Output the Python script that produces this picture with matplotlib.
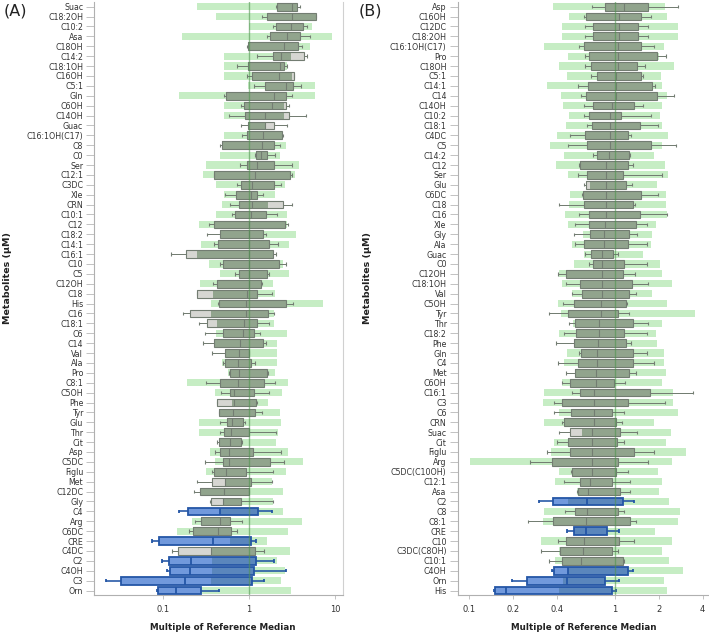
import numpy as np
import matplotlib
matplotlib.use("Agg")
import matplotlib.pyplot as plt
from matplotlib.ticker import NullLocator

# ---- panel A data (multiple of reference median) ----
names_a = ["Suac", "C18:2OH", "C10:2", "Asa", "C18OH", "C14:2", "C18:1OH", "C16OH", "C5:1", "Gln",
           "C6OH", "C14OH", "Guac", "C16:1OH(C17)", "C8", "C0", "Ser", "C12:1", "C3DC", "Xle",
           "CRN", "C10:1", "C12", "C18:2", "C14:1", "C16:1", "C10", "C5", "C12OH", "C18",
           "His", "C16", "C18:1", "C6", "C14", "Val", "Ala", "Pro", "C8:1", "C5OH",
           "Phe", "Tyr", "Glu", "Thr", "Cit", "Asp", "C5DC", "Figlu", "Met", "C12DC",
           "Gly", "C4", "Arg", "C6DC", "CRE", "C4DC", "C2", "C4OH", "C3", "Orn"]
ref_lo_a = [0.25, 0.41, 1.0, 0.166, 0.98, 0.51, 0.51, 0.51, 0.98, 0.155,
            0.51, 0.51, 0.98, 0.51, 0.48, 0.46, 0.32, 0.29, 0.41, 0.51,
            0.48, 0.41, 0.26, 0.46, 0.28, 0.25, 0.34, 0.46, 0.27, 0.385,
            0.36, 0.36, 0.42, 0.41, 0.39, 0.52, 0.49, 0.565, 0.19, 0.40,
            0.63, 0.445, 0.26, 0.26, 0.445, 0.35, 0.40, 0.32, 0.53, 0.27,
            0.50, 0.46, 0.22, 0.144, 0.60, 0.37, 0.37, 0.37, 0.36, 0.28]
ref_hi_a = [3.6, 6.05, 5.35, 9.15, 5.12, 3.05, 2.79, 3.13, 5.85, 5.85,
            2.55, 2.53, 1.53, 2.51, 2.67, 2.29, 3.85, 3.43, 2.62, 2.02,
            1.65, 2.79, 2.79, 3.52, 2.89, 1.92, 2.51, 2.89, 1.88, 2.02,
            7.19, 1.95, 1.97, 2.79, 2.14, 2.10, 2.10, 2.0, 2.87, 2.44,
            1.65, 2.29, 2.33, 2.15, 2.04, 2.84, 4.28, 2.67, 1.83, 2.46,
            1.88, 2.51, 4.10, 2.84, 1.60, 3.0, 2.10, 2.62, 2.33, 3.08]
whisk_lo_a = [2.06, 1.40, 1.88, 1.60, 0.94, 1.23, 0.72, 0.956, 1.15, 0.512,
              0.80, 0.58, 0.80, 0.837, 0.46, 1.17, 0.786, 0.388, 0.719, 0.526,
              0.601, 0.64, 0.343, 0.322, 0.395, 0.123, 0.46, 0.694, 0.385, 0.251,
              0.436, 0.169, 0.264, 0.305, 0.294, 0.368, 0.494, 0.58, 0.313, 0.472,
              0.421, 0.448, 0.46, 0.464, 0.425, 0.403, 0.305, 0.371, 0.249, 0.231,
              0.349, 0.155, 0.236, 0.203, 0.0745, 0.128, 0.0965, 0.110, 0.0217, 0.086]
q1_a = [2.14, 1.62, 2.08, 1.77, 0.98, 1.88, 0.98, 1.09, 1.55, 0.545,
        0.867, 0.906, 0.98, 0.947, 0.485, 1.21, 0.956, 0.388, 0.80, 0.706,
        0.772, 0.694, 0.395, 0.464, 0.436, 0.184, 0.499, 0.772, 0.421, 0.251,
        0.452, 0.208, 0.322, 0.499, 0.395, 0.521, 0.531, 0.607, 0.456, 0.596,
        0.421, 0.448, 0.555, 0.512, 0.448, 0.456, 0.494, 0.388, 0.371, 0.269,
        0.365, 0.197, 0.277, 0.225, 0.0906, 0.151, 0.119, 0.121, 0.0322, 0.0874]
median_a = [3.19, 3.13, 3.05, 2.74, 2.53, 2.36, 2.29, 2.25, 2.69, 1.97,
            1.87, 1.53, 1.53, 1.47, 1.40, 1.37, 1.23, 1.17, 1.07, 1.05,
            1.07, 1.05, 1.01, 1.01, 1.01, 1.0, 1.01, 1.0, 1.0, 0.947,
            0.923, 0.923, 0.883, 0.844, 0.786, 0.772, 0.738, 0.758, 0.738, 0.675,
            0.675, 0.646, 0.629, 0.618, 0.601, 0.591, 0.591, 0.54, 0.526, 0.512,
            0.503, 0.46, 0.46, 0.44, 0.378, 0.358, 0.212, 0.206, 0.180, 0.140]
q3_a = [3.58, 6.01, 4.24, 3.88, 3.75, 4.36, 2.58, 3.34, 3.28, 2.69,
        2.67, 2.92, 1.97, 2.42, 1.94, 1.63, 1.97, 2.97, 1.97, 1.24,
        2.51, 1.59, 2.60, 1.45, 1.72, 1.92, 2.23, 1.60, 1.38, 1.25,
        2.69, 1.65, 1.23, 1.15, 1.45, 1.0, 1.05, 1.62, 1.48, 1.14,
        1.20, 1.19, 0.844, 1.0, 0.814, 1.12, 1.75, 0.915, 1.06, 0.99,
        0.814, 1.26, 0.601, 0.612, 1.05, 1.19, 1.21, 1.15, 1.09, 0.274]
whisk_hi_a = [3.92, 6.01, 4.68, 5.12, 4.10, 4.68, 2.79, 3.34, 4.02, 3.19,
              2.94, 4.60, 2.79, 2.51, 2.29, 2.01, 3.16, 3.16, 2.36, 1.47,
              3.13, 2.14, 2.84, 1.56, 2.19, 2.06, 2.69, 1.69, 1.42, 1.83,
              3.28, 1.95, 1.69, 1.34, 1.56, 1.0, 1.17, 1.68, 2.0, 1.69,
              1.23, 1.42, 0.891, 2.04, 0.837, 2.36, 2.58, 1.88, 1.83, 0.99,
              1.88, 1.83, 0.822, 0.732, 1.21, 1.51, 1.95, 2.67, 1.51, 0.448]
flagged_a = ["C4", "CRE", "C2", "C4OH", "C3", "Orn"]

# ---- panel B data ----
names_b = ["Asp", "C16OH", "C12DC", "C18:2OH", "C16:1OH(C17)", "Pro", "C18OH", "C5:1", "C14:1", "C14",
           "C14OH", "C10:2", "C18:1", "C4DC", "C5", "C14:2", "C12", "Ser", "Glu", "C6DC",
           "C18", "C16", "Xle", "Gly", "Ala", "Guac", "C0", "C12OH", "C18:1OH", "Val",
           "C5OH", "Tyr", "Thr", "C18:2", "Phe", "Gln", "C4", "Met", "C6OH", "C16:1",
           "C3", "C6", "CRN", "Suac", "Cit", "Figlu", "Arg", "C5DC(C10OH)", "C12:1", "Asa",
           "C2", "C8", "C8:1", "CRE", "C10", "C3DC(C8OH)", "C10:1", "C4OH", "Orn", "His"]
ref_lo_b = [0.377, 0.481, 0.43, 0.43, 0.326, 0.478, 0.413, 0.471, 0.341, 0.426,
            0.442, 0.483, 0.458, 0.40, 0.36, 0.447, 0.394, 0.478, 0.673, 0.491,
            0.483, 0.456, 0.478, 0.607, 0.504, 0.616, 0.523, 0.413, 0.43, 0.509,
            0.408, 0.424, 0.518, 0.413, 0.52, 0.471, 0.447, 0.53, 0.435, 0.327,
            0.32, 0.413, 0.327, 0.59, 0.381, 0.364, 0.101, 0.415, 0.387, 0.545,
            0.478, 0.327, 0.322, 0.52, 0.309, 0.415, 0.387, 0.478, 0.442, 0.415]
ref_hi_b = [2.20, 2.26, 2.69, 2.69, 2.17, 2.0, 2.55, 2.07, 2.09, 2.26,
            2.12, 2.04, 2.09, 2.30, 2.09, 1.86, 2.20, 2.32, 1.93, 2.23,
            2.23, 2.26, 1.91, 1.80, 1.76, 1.55, 2.04, 2.12, 2.45, 1.79,
            2.26, 3.54, 2.11, 1.91, 1.94, 2.18, 2.16, 2.23, 2.09, 2.51,
            2.51, 2.72, 1.84, 2.41, 2.23, 3.07, 2.48, 1.96, 2.12, 2.0,
            2.35, 2.79, 2.69, 1.88, 2.48, 2.09, 2.36, 2.91, 2.17, 2.27]
whisk_lo_b = [0.692, 0.610, 0.622, 0.622, 0.563, 0.622, 0.622, 0.688, 0.557, 0.587,
              0.610, 0.610, 0.639, 0.491, 0.478, 0.706, 0.569, 0.554, 0.610, 0.590,
              0.413, 0.563, 0.531, 0.523, 0.531, 0.622, 0.663, 0.408, 0.458, 0.509,
              0.442, 0.352, 0.481, 0.447, 0.396, 0.566, 0.408, 0.458, 0.435, 0.507,
              0.383, 0.383, 0.435, 0.413, 0.40, 0.343, 0.262, 0.499, 0.444, 0.545,
              0.301, 0.454, 0.251, 0.471, 0.408, 0.312, 0.35, 0.367, 0.195, 0.148]
q1_b = [0.849, 0.636, 0.706, 0.706, 0.616, 0.667, 0.688, 0.756, 0.653, 0.636,
        0.703, 0.659, 0.695, 0.622, 0.646, 0.756, 0.575, 0.639, 0.629, 0.603,
        0.616, 0.667, 0.659, 0.677, 0.616, 0.688, 0.706, 0.463, 0.575, 0.597,
        0.526, 0.478, 0.529, 0.543, 0.523, 0.581, 0.557, 0.534, 0.494, 0.575,
        0.435, 0.502, 0.449, 0.494, 0.478, 0.491, 0.370, 0.507, 0.578, 0.557,
        0.377, 0.529, 0.377, 0.52, 0.461, 0.417, 0.433, 0.381, 0.249, 0.151]
median_b = [1.15, 1.07, 1.06, 1.06, 1.05, 1.05, 1.05, 1.02, 1.02, 1.02,
            0.954, 0.919, 0.919, 0.919, 0.919, 0.91, 0.872, 0.872, 0.872, 0.872,
            0.872, 0.872, 0.849, 0.84, 0.84, 0.814, 0.814, 0.814, 0.81, 0.81,
            0.806, 0.806, 0.773, 0.781, 0.764, 0.752, 0.752, 0.745, 0.737, 0.722,
            0.722, 0.722, 0.714, 0.699, 0.699, 0.699, 0.699, 0.692, 0.674, 0.656,
            0.646, 0.639, 0.629, 0.629, 0.616, 0.606, 0.587, 0.478, 0.468, 0.180]
q3_b = [1.68, 1.51, 1.43, 1.43, 1.50, 1.94, 1.41, 1.51, 1.79, 1.93,
        1.35, 1.10, 1.49, 1.22, 1.76, 1.24, 1.22, 1.14, 1.20, 1.50,
        1.32, 1.49, 1.39, 1.24, 1.22, 0.974, 1.15, 1.13, 1.30, 1.24,
        1.20, 1.05, 1.34, 1.16, 1.20, 1.32, 1.32, 1.24, 0.989, 1.73,
        1.22, 0.959, 1.01, 1.09, 1.04, 1.36, 1.05, 1.02, 0.959, 1.09,
        1.13, 1.05, 1.26, 0.886, 1.06, 0.959, 1.13, 1.23, 0.854, 0.959]
whisk_hi_b = [2.72, 1.76, 1.69, 1.69, 1.84, 2.24, 1.62, 1.57, 1.87, 2.55,
              1.57, 1.76, 1.98, 1.29, 2.61, 1.27, 1.32, 2.11, 1.31, 1.98,
              1.37, 2.26, 1.65, 1.42, 1.67, 1.05, 1.65, 1.37, 1.69, 1.39,
              1.21, 1.25, 1.68, 1.65, 1.29, 1.65, 1.86, 1.39, 1.17, 3.41,
              2.20, 1.16, 1.12, 1.42, 1.15, 1.86, 1.69, 1.22, 1.27, 1.27,
              1.35, 1.15, 1.39, 1.07, 1.35, 1.05, 1.16, 1.33, 1.07, 1.02]
flagged_b = ["C2", "CRE", "C4OH", "Orn", "His"]

# colours
GREEN = "#c6edc4"
GREY_IN, GREY_OUT, GREY_EDGE = "#91a48d", "#d6d6d2", "#737d72"
BLUE_IN, BLUE_OUT, BLUE_EDGE = "#5a86bc", "#7199dc", "#2456a6"


def draw_panel(ax, names, ref_lo, ref_hi, wlo, q1, med, q3, whi, flagged):
    y = np.arange(len(names))
    ref_lo = np.array(ref_lo)
    ref_hi = np.array(ref_hi)
    ax.barh(y, ref_hi - ref_lo, left=ref_lo, height=0.72, color=GREEN, zorder=1)
    for i, name in enumerate(names):
        if name in flagged:
            c_in, c_out, c_edge, lw = BLUE_IN, BLUE_OUT, BLUE_EDGE, 1.3
        else:
            c_in, c_out, c_edge, lw = GREY_IN, GREY_OUT, GREY_EDGE, 0.8
        lo, hi = q1[i], q3[i]
        # part of the box lying over the reference bar is darker
        a, b = max(lo, ref_lo[i]), min(hi, ref_hi[i])
        if b > a:
            ax.barh(i, b - a, left=a, height=0.78, color=c_in, zorder=2)
        if lo < ref_lo[i]:
            ax.barh(i, min(hi, ref_lo[i]) - lo, left=lo, height=0.78, color=c_out, zorder=2)
        if hi > ref_hi[i]:
            s = max(lo, ref_hi[i])
            ax.barh(i, hi - s, left=s, height=0.78, color=c_out, zorder=2)
        ax.barh(i, hi - lo, left=lo, height=0.78, fill=False, edgecolor=c_edge,
                linewidth=lw, zorder=3)
        ax.vlines(med[i], i - 0.39, i + 0.39, color=c_edge, linewidth=lw, zorder=3)
        ax.hlines([i, i], [wlo[i], hi], [lo, whi[i]], color=c_edge, linewidth=lw * 0.9, zorder=3)
        ax.vlines([wlo[i], whi[i]], i - 0.17, i + 0.17, color=c_edge, linewidth=lw, zorder=3)
    ax.axvline(1, color="#4f944f", alpha=0.6, linewidth=1.0, zorder=4)
    ax.set_xscale("log")
    ax.set_ylim(len(names) - 0.5, -0.5)
    ax.set_yticks(y)
    ax.set_yticklabels(names)
    ax.xaxis.set_minor_locator(NullLocator())
    ax.tick_params(axis="y", length=6, width=0.6, color="#b8b8b8", labelsize=5.7,
                   labelcolor="#333333", pad=2)
    ax.tick_params(axis="x", length=3, width=0.6, color="#b8b8b8", labelsize=6,
                   labelcolor="#333333", pad=4)
    for s in ["left", "bottom"]:
        ax.spines[s].set_color("#b0b0b0")
        ax.spines[s].set_linewidth(0.8)
    ax.spines["top"].set_visible(False)


fig = plt.figure(figsize=(7.09, 6.36), dpi=100)
ax_a = fig.add_axes([0.1330, 0.0637, 0.3508, 0.9336])
ax_b = fig.add_axes([0.6455, 0.0637, 0.3530, 0.9336])

draw_panel(ax_a, names_a, ref_lo_a, ref_hi_a, whisk_lo_a, q1_a, median_a, q3_a, whisk_hi_a, flagged_a)
draw_panel(ax_b, names_b, ref_lo_b, ref_hi_b, whisk_lo_b, q1_b, median_b, q3_b, whisk_hi_b, flagged_b)

ax_a.set_xlim(0.0159, 12.4)
ax_a.set_xticks([0.1, 1, 10])
ax_a.set_xticklabels(["0.1", "1", "10"])
ax_a.spines["right"].set_color("#d0d0d0")
ax_a.spines["right"].set_linewidth(0.8)

ax_b.set_xlim(0.0832, 4.35)
ax_b.set_xticks([0.1, 0.2, 0.4, 1, 2, 4])
ax_b.set_xticklabels(["0.1", "0.2", "0.4", "1", "2", "4"])
ax_b.spines["right"].set_visible(False)

for xc in [223 / 709, 584 / 709]:
    fig.text(xc, 1 - 628 / 636, "Multiple of Reference Median", ha="center", va="center",
             fontsize=6.3, fontweight="bold", color="#222222")
for xc in [8 / 709, 367 / 709]:
    fig.text(xc, 1 - 278 / 636, "Metabolites (\u03bcM)", ha="center", va="center",
             rotation=90, fontsize=6.8, fontweight="bold", color="#222222")

fig.text(15 / 709, 1 - 11 / 636, "(A)", ha="center", va="center", fontsize=11.5, color="#222222")
fig.text(370 / 709, 1 - 11 / 636, "(B)", ha="center", va="center", fontsize=11.5, color="#222222")

fig.savefig("out.png", dpi=100)
